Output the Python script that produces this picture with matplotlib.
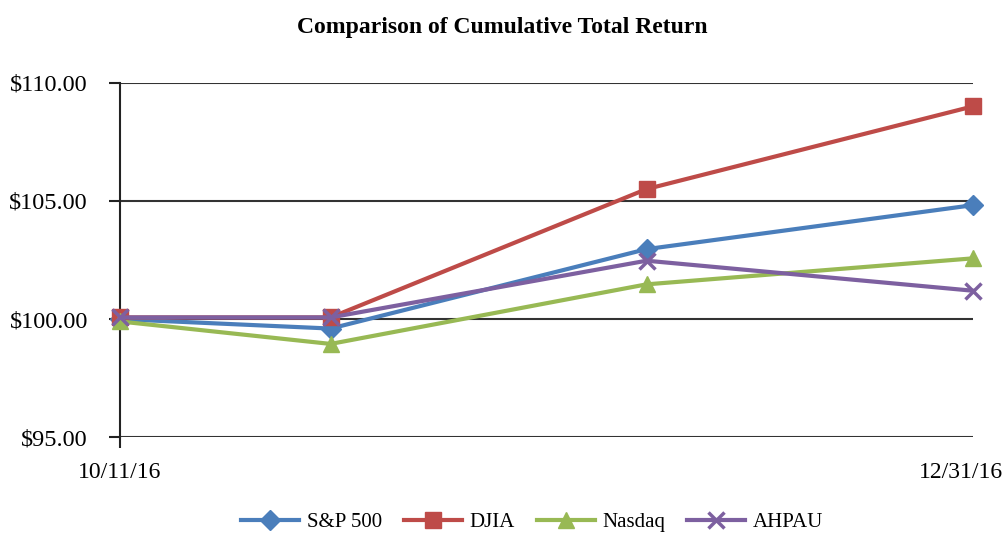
import matplotlib
matplotlib.use("Agg")
import matplotlib.pyplot as plt
import matplotlib.dates as mdates
import matplotlib.transforms as mtransforms
import numpy as np
from datetime import datetime

plt.rcParams['font.family'] = ['Liberation Serif', 'DejaVu Serif']

dates = [datetime(2016, 10, 11), datetime(2016, 10, 31), datetime(2016, 11, 30), datetime(2016, 12, 31)]
sp500 = [100.0, 99.6, 102.96, 104.82]
djia = [100.07, 100.07, 105.5, 109.0]
nasdaq = [99.9, 98.95, 101.47, 102.57]
ahpau = [100.07, 100.07, 102.47, 101.2]
series_names = ["S&P 500", "DJIA", "Nasdaq", "AHPAU"]
yticks = [95, 100, 105, 110]
xtick_labels = ["10/11/16", "12/31/16"]

colors = ["#4A7EBB", "#BE4B48", "#98B954", "#7D60A0"]
markers = ["D", "s", "^", "x"]
msizes = [10, 12, 12, 11]

fig = plt.figure(figsize=(10.05, 5.34), dpi=100)
ax = fig.add_axes([120/1005, 1-437.3/534, (973-120)/1005, (437.3-82.7)/534])

for vals, name, c, m, ms in zip([sp500, djia, nasdaq, ahpau], series_names, colors, markers, msizes):
    ax.plot(dates, vals, color=c, lw=3, marker=m, markersize=ms, label=name,
            markeredgewidth=2.5 if m == "x" else 1, markeredgecolor=c, clip_on=False, zorder=3)

ax.set_ylim(95, 110)
ax.set_yticks(yticks)
ax.set_yticklabels([f"${v:.2f}" for v in yticks], fontsize=17.5)
ax.set_xlim(dates[0], dates[-1])
ax.set_xticks([mdates.date2num(dates[0]), mdates.date2num(dates[-1])])
ax.set_xticklabels(xtick_labels, fontsize=17)
ax.grid(axis='y', color='#333333', lw=1.5, zorder=1)
for s in ['top', 'right', 'bottom']:
    ax.spines[s].set_visible(False)
ax.spines['left'].set_color('#222222')
ax.spines['left'].set_linewidth(1.5)
ax.tick_params(axis='y', length=8, width=1.5, color='#222222', pad=15)
ax.tick_params(axis='x', length=8, width=1.5, color='#222222', pad=10)
xt = ax.xaxis.get_major_ticks()
xt[-1].tick1line.set_visible(False)
lbls = ax.get_xticklabels()
lbls[-1].set_transform(lbls[-1].get_transform() + mtransforms.ScaledTranslation(-0.12, 0, fig.dpi_scale_trans))

fig.text(0.5, 1-28/534, "Comparison of Cumulative Total Return", ha='center', va='center',
         fontsize=17, fontweight='bold')

leg = fig.legend(loc='center', bbox_to_anchor=(532/1005, 1-522/534), ncol=4, frameon=False,
                 fontsize=15, handlelength=2.8, columnspacing=1.05, handletextpad=0.35)

fig.savefig("out.png", dpi=100)
